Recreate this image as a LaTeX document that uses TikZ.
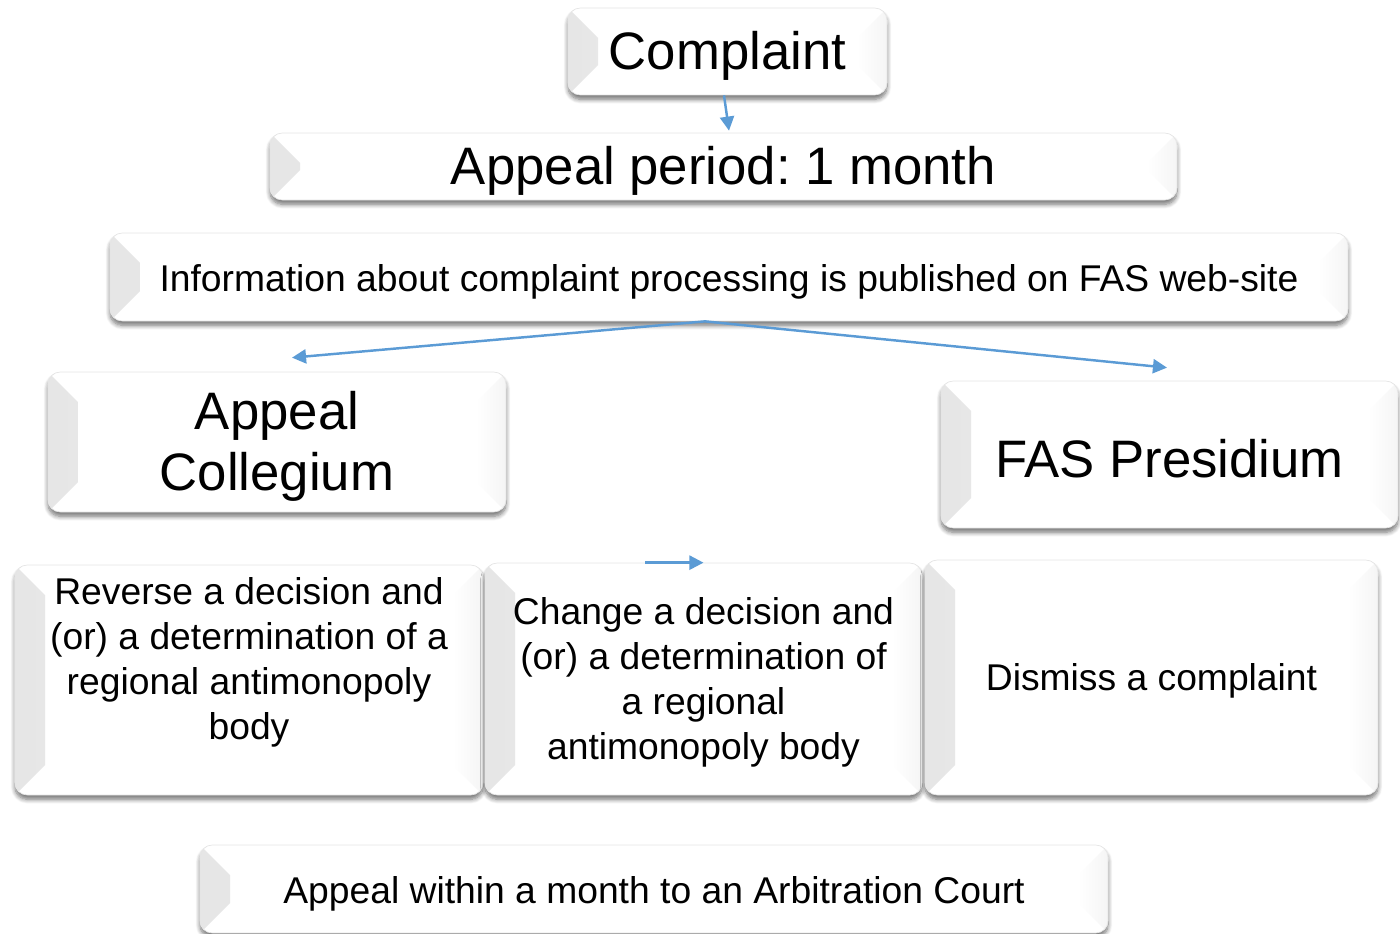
\documentclass[tikz,border=0pt]{standalone}
\usepackage{fontspec}
\setmainfont{Liberation Sans}
\frenchspacing
\usetikzlibrary{arrows.meta,shadows.blur}
\definecolor{flowblue}{RGB}{91,155,213}
\newcommand{\bigtxt}{\fontsize{30}{35}\selectfont}
\newcommand{\midtxt}{\fontsize{21.2}{25.5}\selectfont}
\tikzset{
  bevelbox/.style={rounded corners=7pt, fill=white, draw=gray!20, inner sep=0pt,
    blur shadow={shadow xshift=0pt, shadow yshift=-2.5pt, shadow blur radius=2.5pt, shadow blur steps=8, shadow opacity=55},
    path picture={
      \fill[sharp corners, left color=gray!20, right color=gray!2]
        (path picture bounding box.north west) -- ([shift={(0.6,-0.6)}]path picture bounding box.north west)
        -- ([shift={(0.6,0.6)}]path picture bounding box.south west) -- (path picture bounding box.south west) -- cycle;
      \fill[sharp corners, left color=white, right color=gray!8]
        (path picture bounding box.north east) -- ([shift={(-0.6,-0.6)}]path picture bounding box.north east)
        -- ([shift={(-0.6,0.6)}]path picture bounding box.south east) -- (path picture bounding box.south east) -- cycle;}},
  boxtext/.style={align=center, inner sep=0pt},
  flow/.style={draw=flowblue, line width=1.4pt, -{Triangle[width=8pt,length=8pt]}}
}
\begin{document}
\begin{tikzpicture}
\useasboundingbox (0,0) rectangle (28,-18.68);
\node[bevelbox, minimum width=6.38cm, minimum height=1.74cm] (complaint) at (14.55,-1.03) {};
\node[bevelbox, minimum width=18.14cm, minimum height=1.34cm] (period) at (14.47,-3.33) {};
\node[bevelbox, minimum width=24.76cm, minimum height=1.76cm] (info) at (14.58,-5.54) {};
\node[bevelbox, minimum width=9.16cm, minimum height=2.8cm] (collegium) at (5.54,-8.84) {};
\node[bevelbox, minimum width=9.14cm, minimum height=2.94cm] (presidium) at (23.39,-9.09) {};
\node[bevelbox, minimum width=9.36cm, minimum height=4.6cm] (reverse) at (4.98,-13.6) {};
\node[bevelbox, minimum width=8.74cm, minimum height=4.64cm] (change) at (14.07,-13.58) {};
\node[bevelbox, minimum width=9.06cm, minimum height=4.7cm] (dismiss) at (23.03,-13.55) {};
\node[bevelbox, minimum width=18.16cm, minimum height=1.76cm] (court) at (13.08,-17.78) {};

\node[boxtext, font=\bigtxt] (complainttext) at ([yshift=-0.09cm]complaint.center) {Complaint};
\node[boxtext, font=\bigtxt] (periodtext) at ([yshift=-0.09cm]period.center) {Appeal period: 1 month};
\node[boxtext, font=\midtxt] (infotext) at ([yshift=-0.09cm]info.center) {Information about complaint processing is published on FAS web-site};
\node[boxtext, font=\bigtxt] (collegiumtext) at ([yshift=-0.09cm]collegium.center) {Appeal\\Collegium};
\node[boxtext, font=\bigtxt] (presidiumtext) at ([yshift=-0.09cm]presidium.center) {FAS Presidium};
\node[boxtext, font=\midtxt] (reversetext) at ([yshift=0.35cm]reverse.center) {Reverse a decision and\\(or) a determination of a\\regional antimonopoly\\body};
\node[boxtext, font=\midtxt] (changetext) at ([yshift=-0.07cm]change.center) {Change a decision and\\(or) a determination of\\a regional\\antimonopoly body};
\node[boxtext, font=\midtxt] (dismisstext) at ([yshift=-0.07cm]dismiss.center) {Dismiss a complaint};
\node[boxtext, font=\midtxt] (courttext) at ([yshift=-0.09cm]court.center) {Appeal within a month to an Arbitration Court};

\coordinate (split) at ([xshift=-0.48cm]info.south);
\draw[flow] ([xshift=-0.07cm]complaint.south) -- ([shift={(0.11cm,0.04cm)}]period.north);
\draw[flow] (split) -- ([shift={(0.3cm,0.28cm)}]collegium.north);
\draw[flow] (split) -- ([shift={(-0.05cm,0.26cm)}]presidium.north);
\draw[flow] ([xshift=-1.17cm]change.north) -- (change.north);
\end{tikzpicture}
\end{document}
